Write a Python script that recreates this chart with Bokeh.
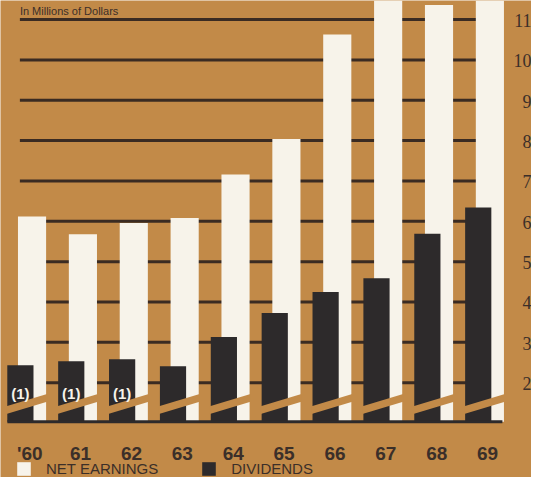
from bokeh.plotting import figure
from bokeh.models import Range1d, Legend, LegendItem
from bokeh.core.properties import value
from bokeh.embed import file_html
from bokeh.resources import INLINE

# ---- data ----
years = ["'60", "61", "62", "63", "64", "65", "66", "67", "68", "69"]
net_earnings = [6.12, 5.68, 5.96, 6.08, 7.16, 8.04, 10.63, 11.9, 11.36, 12.4]
dividends = [2.43, 2.53, 2.58, 2.41, 3.13, 3.73, 4.25, 4.59, 5.69, 6.34]
footnotes = ["(1)", "(1)", "(1)", "", "", "", "", "", "", ""]
y_ticks = [2, 3, 4, 5, 6, 7, 8, 9, 10, 11]
y_tick_labels = [str(t) for t in y_ticks]
title_text = "In Millions of Dollars"

# ---- style ----
BG = "#c28a48"
WHITE = "#f7f3ea"
DARK = "#2d2a2b"
GRID = "#3a2b22"
TEXT = "#3b2f29"

W, H = 531, 477
X0, X1 = -0.515, 9.923
Y0, Y1 = -0.350, 11.472
BASE = 1.03
idx = list(range(len(years)))

p = figure(width=W, height=H, x_range=Range1d(X0, X1), y_range=Range1d(Y0, Y1),
           x_axis_type=None, y_axis_type=None, toolbar_location=None,
           output_backend="svg", min_border=0,
           background_fill_color=BG, border_fill_color=BG, outline_line_color=None)
p.grid.visible = False

# grid lines (behind bars)
n = len(y_ticks)
p.segment(x0=[-0.134] * n, x1=[8.836] * n, y0=y_ticks, y1=y_ticks,
          line_color=GRID, line_width=3)

# bars
white = p.vbar(x=[i + 0.105 for i in idx], top=net_earnings, bottom=BASE, width=0.553,
               fill_color=WHITE, line_color=None)
black = p.vbar(x=[i - 0.124 for i in idx], top=dividends, bottom=BASE, width=0.515,
               fill_color=DARK, line_color=None)

# axis-break stripes across each bar pair
slope = 0.38
xs, ys = [], []
for i in idx:
    xl, xr = i - 0.40, i + 0.40
    lo_l = 1.23 + slope * (-0.40 + 0.381)
    lo_r = 1.23 + slope * (0.40 + 0.381)
    xs.append([xl, xr, xr, xl])
    ys.append([lo_l, lo_r, lo_r + 0.19, lo_l + 0.19])
p.patches(xs=xs, ys=ys, fill_color=BG, line_color=None)

# baseline
p.segment(x0=[-0.38], x1=[9.351], y0=[BASE], y1=[BASE], line_color=DARK, line_width=3)

# footnote marks
p.text(x=[i - 0.124 for i in idx], y=1.73, text=footnotes, text_color=WHITE,
       text_font=value("Liberation Sans"), text_font_style="bold", text_font_size="15px",
       text_align="center", text_baseline="middle")

# year labels
p.text(x=[i + 0.06 for i in idx], y=0.25, text=years, text_color=TEXT,
       text_font=value("Liberation Sans"), text_font_style="bold", text_font_size="19px",
       text_align="center", text_baseline="alphabetic")

# value labels on the right
p.text(x=X1, y=y_ticks, text=y_tick_labels, text_color=TEXT, y_offset=1,
       text_font=value("Liberation Serif"), text_font_size="18px",
       text_align="right", text_baseline="middle")

# units title
p.text(x=-0.134, y=11.21, text=[title_text], text_color=TEXT,
       text_font=value("Liberation Sans"), text_font_size="11px",
       text_align="left", text_baseline="alphabetic")

legend = Legend(items=[LegendItem(label="NET EARNINGS", renderers=[white]),
                       LegendItem(label="DIVIDENDS", renderers=[black])],
                orientation="horizontal", location=(15, 0),
                glyph_width=17, glyph_height=17, label_height=17, label_standoff=14,
                spacing=42, padding=0, margin=0,
                label_text_font="Liberation Sans", label_text_font_size="15px",
                label_text_color=TEXT, background_fill_alpha=0, border_line_color=None)
p.add_layout(legend)

open("out.html", "w").write(file_html(p, INLINE))
